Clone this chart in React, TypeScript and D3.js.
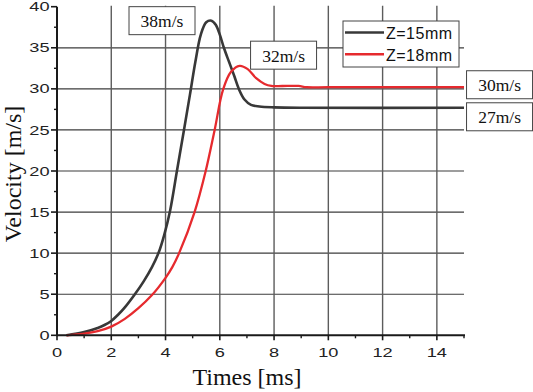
import { useEffect, useRef } from 'react';
import * as d3 from 'd3';

// Z=15mm curve (black)
const timeZ15 = [0.35, 1.0, 1.5, 1.75, 2.0, 2.25, 2.5, 2.87, 3.2, 3.5, 3.75, 3.95, 4.17, 4.42, 4.68, 4.9, 5.1, 5.3, 5.5, 5.69, 5.85, 6.0, 6.15, 6.35, 6.54, 6.7, 6.91, 7.15, 7.46, 8.0, 9.0, 15];
const velZ15 = [0, 0.4, 0.9, 1.25, 1.75, 2.5, 3.4, 5.0, 6.6, 8.3, 10.1, 12.2, 15.2, 20, 25, 29.3, 33.3, 36.6, 38.1, 38.3, 37.8, 36.6, 35, 33.2, 31.5, 30, 28.7, 28.05, 27.85, 27.75, 27.7, 27.7];

// Z=18mm curve (red)
const timeZ18 = [0.35, 1.0, 1.5, 2.0, 2.5, 3.0, 3.5, 4.0, 4.25, 4.5, 5.07, 5.48, 5.81, 6.12, 6.42, 6.73, 7.03, 7.34, 7.65, 7.9, 8.3, 8.9, 9.2, 10, 15];
const velZ18 = [0, 0.2, 0.5, 1.05, 2.0, 3.3, 4.9, 7.0, 8.3, 10, 15, 20, 25, 29.9, 32.1, 32.8, 32.4, 31.3, 30.6, 30.35, 30.35, 30.35, 30.2, 30.2, 30.2];

const seriesNames = ['Z=15mm', 'Z=18mm'];
const seriesColors = ['#383838', '#e62a2e'];

const xTicks = [0, 2, 4, 6, 8, 10, 12, 14];
const xMinor = [1, 3, 5, 7, 9, 11, 13, 15];
const yTicks = [0, 5, 10, 15, 20, 25, 30, 35, 40];
const yMinor = [2.5, 7.5, 12.5, 17.5, 22.5, 27.5, 32.5, 37.5];

// value boxes, centred at (time, velocity)
const noteLabels = ['38m/s', '32m/s', '30m/s', '27m/s'];
const noteTime = [3.87, 8.35, 16.31, 16.31];
const noteVel = [38.3, 34.1, 30.5, 26.6];

export default function App() {
    const svgRef = useRef<SVGSVGElement>(null);

    useEffect(() => {
        if (!svgRef.current) return;
        const width = 533;
        const height = 392;
        const svg = d3.select(svgRef.current);
        svg.selectAll('*').remove();
        svg.attr('width', width).attr('height', height);

        const x = d3.scaleLinear().domain([0, 15]).range([57, 464]);
        const y = d3.scaleLinear().domain([0, 40]).range([335.3, 6.7]);
        const sans = "'Liberation Sans', Arial, sans-serif";
        const serif = "'Liberation Serif', 'Times New Roman', serif";

        svg.append('rect').attr('width', width).attr('height', height).attr('fill', '#fff');

        // grid
        svg.append('g')
            .selectAll('line')
            .data(yTicks.filter(d => d > 0 && d < 40))
            .join('line')
            .attr('x1', x(0)).attr('x2', x(15))
            .attr('y1', d => y(d)).attr('y2', d => y(d))
            .attr('stroke', '#3c3c3c')
            .attr('stroke-width', 1.2);

        svg.append('g')
            .selectAll('line')
            .data(xTicks.filter(d => d > 0))
            .join('line')
            .attr('x1', d => x(d)).attr('x2', d => x(d))
            .attr('y1', y(0)).attr('y2', y(40) - 1)
            .attr('stroke', '#5c5c5c')
            .attr('stroke-width', 1.4);

        // curves
        const line = d3.line<[number, number]>()
            .x(d => x(d[0]))
            .y(d => y(d[1]))
            .curve(d3.curveCatmullRom.alpha(0.5));

        const series: [number, number][][] = [
            timeZ15.map((t, i) => [t, velZ15[i]]),
            timeZ18.map((t, i) => [t, velZ18[i]]),
        ];

        series.forEach((pts, i) => {
            svg.append('path')
                .attr('d', line(pts))
                .attr('fill', 'none')
                .attr('stroke', seriesColors[i])
                .attr('stroke-width', i === 0 ? 2.6 : 2.3)
                .attr('stroke-linejoin', 'round');
        });

        // axes
        const axes = svg.append('g').attr('stroke', '#1a1a1a');
        axes.append('line')
            .attr('x1', x(0)).attr('x2', x(15) + 1)
            .attr('y1', y(0)).attr('y2', y(0))
            .attr('stroke-width', 2);
        axes.append('line')
            .attr('x1', x(0)).attr('x2', x(0))
            .attr('y1', y(0) + 1).attr('y2', y(40))
            .attr('stroke-width', 2);

        axes.selectAll('.xt')
            .data(xTicks)
            .join('line')
            .attr('x1', d => x(d)).attr('x2', d => x(d))
            .attr('y1', y(0)).attr('y2', y(0) + 5)
            .attr('stroke-width', 1.6);
        axes.selectAll('.xm')
            .data(xMinor)
            .join('line')
            .attr('x1', d => x(d)).attr('x2', d => x(d))
            .attr('y1', y(0)).attr('y2', y(0) + 3)
            .attr('stroke-width', 1.4);
        axes.selectAll('.yt')
            .data(yTicks)
            .join('line')
            .attr('x1', x(0) - 6).attr('x2', x(0))
            .attr('y1', d => y(d)).attr('y2', d => y(d))
            .attr('stroke-width', 1.6);
        axes.selectAll('.ym')
            .data(yMinor)
            .join('line')
            .attr('x1', x(0) - 3).attr('x2', x(0))
            .attr('y1', d => y(d)).attr('y2', d => y(d))
            .attr('stroke-width', 1.4);

        // tick labels (the source font is stretched sideways)
        svg.append('g')
            .selectAll('g')
            .data(xTicks)
            .join('g')
            .attr('transform', d => `translate(${x(d)},${y(0) + 21.5}) scale(1.4,1)`)
            .append('text')
            .attr('text-anchor', 'middle')
            .attr('font-family', sans)
            .attr('font-size', 13)
            .attr('fill', '#222')
            .text(d => d);

        svg.append('g')
            .selectAll('g')
            .data(yTicks)
            .join('g')
            .attr('transform', d => `translate(${x(0) - 7.5},${y(d) + 4.6}) scale(1.4,1)`)
            .append('text')
            .attr('text-anchor', 'end')
            .attr('font-family', sans)
            .attr('font-size', 13)
            .attr('fill', '#222')
            .text(d => d);

        // axis titles
        svg.append('text')
            .attr('x', 247)
            .attr('y', 385)
            .attr('text-anchor', 'middle')
            .attr('font-family', serif)
            .attr('font-size', 24)
            .attr('fill', '#111')
            .text('Times [ms]');

        svg.append('text')
            .attr('transform', `translate(21,${(y(0) + y(40)) / 2 + 3}) rotate(-90)`)
            .attr('text-anchor', 'middle')
            .attr('font-family', serif)
            .attr('font-size', 24)
            .attr('fill', '#111')
            .text('Velocity [m/s]');

        // value boxes
        const notes = svg.append('g')
            .selectAll('g')
            .data(noteLabels)
            .join('g')
            .attr('transform', (d, i) => `translate(${x(noteTime[i])},${y(noteVel[i])})`);
        notes.append('rect')
            .attr('x', -33).attr('y', -14)
            .attr('width', 66).attr('height', 28)
            .attr('fill', '#fff')
            .attr('stroke', '#444')
            .attr('stroke-width', 1);
        notes.append('text')
            .attr('y', 6.5)
            .attr('text-anchor', 'middle')
            .attr('font-family', serif)
            .attr('font-size', 17.5)
            .attr('fill', '#111')
            .text(d => d);

        // legend
        const legend = svg.append('g').attr('transform', 'translate(343,21)');
        legend.append('rect')
            .attr('width', 116).attr('height', 46)
            .attr('fill', '#fff')
            .attr('stroke', '#444')
            .attr('stroke-width', 1);
        const rows = legend.selectAll('.row')
            .data(seriesNames)
            .join('g')
            .attr('transform', (d, i) => `translate(0,${11.5 + i * 21.7})`);
        rows.append('line')
            .attr('x1', 2).attr('x2', 41)
            .attr('stroke', (d, i) => seriesColors[i])
            .attr('stroke-width', 2.5);
        rows.append('text')
            .attr('x', 43)
            .attr('y', 6.5)
            .attr('font-family', sans)
            .attr('font-size', 16)
            .attr('letter-spacing', 0.5)
            .attr('fill', '#111')
            .text(d => d);
    }, []);

    return (
        <svg ref={svgRef} style={{ position: 'absolute', left: 0, top: 0 }}></svg>
    );
}
